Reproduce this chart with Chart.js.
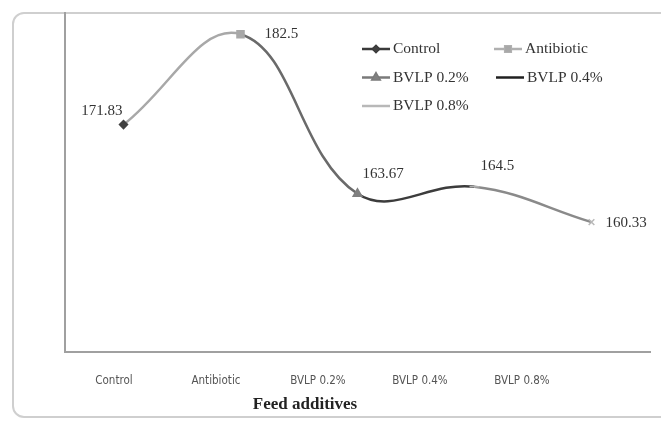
<!DOCTYPE html>
<html lang="en">
<head>
<meta charset="UTF-8">
<title>Feed additives</title>
<script src="https://cdn.jsdelivr.net/npm/chart.js"></script>
<style>
  body { margin: 0; background: #fff; }
  .wrap { position: relative; width: 661px; height: 423px; overflow: hidden; }
  .frame { position: absolute; left: 12px; top: 12px; width: 680px; height: 406px;
           border: 2px solid #cfcfcf; border-radius: 12px; box-sizing: border-box; }
  canvas { position: absolute; left: 0; top: 0; }
</style>
</head>
<body>
<div class="wrap">
  <div class="frame"></div>
  <canvas id="chart" width="661" height="423"></canvas>
</div>
<script>
const categories = ['Control', 'Antibiotic', 'BVLP 0.2%', 'BVLP 0.4%', 'BVLP 0.8%'];
const values = [171.83, 182.5, 163.67, 164.5, 160.33];
const valueLabels = ['171.83', '182.5', '163.67', '164.5', '160.33'];

// one look per treatment (marker + line colour), as in the original legend
const pointShapes = ['rectRot', 'rect', 'triangle', 'line', 'crossRot'];
const pointColors = ['#404040', '#a8a8a8', '#808080', '#b0b0b0', '#b8b8b8'];
const pointSizes = [4, 5, 5, 5, 4];
const segColors = ['#a8a8a8', '#6a6a6a', '#3c3c3c', '#8a8a8a'];
const legendLineColors = ['#3a3a3a', '#b0b0b0', '#7a7a7a', '#202020', '#b8b8b8'];

const serif = "'Liberation Serif', 'Times New Roman', serif";

const overlay = {
  id: 'overlay',
  afterDatasetsDraw(chart) {
    const ctx = chart.ctx;
    const pts = chart.getDatasetMeta(0).data;
    ctx.save();
    ctx.font = '15px ' + serif;
    ctx.fillStyle = '#333';
    ctx.textBaseline = 'middle';
    // value labels
    const offs = [[-1, -14, 'right'], [24, 0, 'left'], [5, -20, 'left'], [6, -21, 'left'], [14, 1, 'left']];
    pts.forEach((p, i) => {
      ctx.textAlign = offs[i][2];
      ctx.fillText(valueLabels[i], p.x + offs[i][0], p.y + offs[i][1]);
    });

    // legend inside plot
    ctx.font = '15.5px ' + serif;
    const slots = [[362, 49], [494, 49], [362, 77.5], [496, 77.5], [362, 106]];
    categories.forEach((c, i) => {
      const [x, y] = slots[i];
      ctx.strokeStyle = legendLineColors[i];
      ctx.lineWidth = 2.5;
      ctx.beginPath(); ctx.moveTo(x, y); ctx.lineTo(x + 28, y); ctx.stroke();
      if (i < 3) {
        Chart.helpers.drawPoint(ctx, {
          pointStyle: pointShapes[i], radius: i === 0 ? 3 : 4, rotation: 0, borderWidth: 1
        }, x + 14, y);
        ctx.fillStyle = pointColors[i];
        ctx.fill();
      }
      ctx.fillStyle = '#333';
      ctx.textAlign = 'left';
      ctx.fillText(c, x + 31, y);
    });

    // axis title
    ctx.font = 'bold 17px ' + serif;
    ctx.fillStyle = '#222';
    ctx.textAlign = 'center';
    ctx.fillText('Feed additives', 305, 405);
    ctx.restore();
  }
};

new Chart(document.getElementById('chart'), {
  type: 'line',
  data: {
    labels: categories,
    datasets: [{
      data: values,
      borderWidth: 2.5,
      tension: 0.4,
      fill: false,
      clip: false,
      segment: { borderColor: c => segColors[c.p0DataIndex] },
      pointStyle: pointShapes,
      pointRadius: pointSizes,
      pointBackgroundColor: pointColors,
      pointBorderColor: pointColors,
      pointBorderWidth: 1.5
    }]
  },
  options: {
    responsive: false,
    animation: false,
    layout: { padding: { left: 65, top: 13, right: 11, bottom: 0 } },
    plugins: { legend: { display: false }, tooltip: { enabled: false } },
    scales: {
      x: {
        display: false,
        offset: true
      },
      // the category labels in the original sit on a slightly narrower spacing than the points
      xt: {
        type: 'linear',
        position: 'bottom',
        min: -0.48,
        max: 5.255,
        grid: { display: false },
        border: { display: true, color: '#a0a0a0', width: 2 },
        afterBuildTicks(s) { s.ticks = categories.map((c, i) => ({ value: i })); },
        ticks: {
          padding: 14,
          autoSkip: false,
          maxRotation: 0,
          color: '#555',
          font: { size: 11.5, family: "'Liberation Sans Narrow', 'DejaVu Sans Condensed', sans-serif" },
          callback: v => categories[v]
        },
        afterFit(s) { s.height = 71; }
      },
      y: {
        min: 145,
        max: 185,
        grid: { display: false },
        border: { display: true, color: '#a0a0a0', width: 2 },
        ticks: { display: false },
        afterFit(s) { s.width = 0; }
      }
    }
  },
  plugins: [overlay]
});
</script>
</body>
</html>
